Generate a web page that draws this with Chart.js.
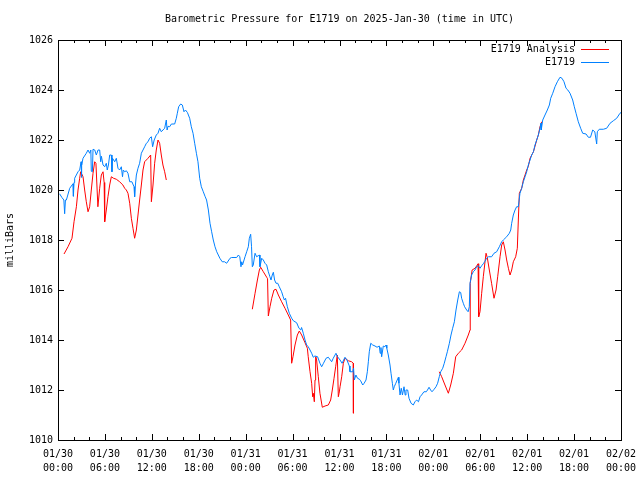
<!DOCTYPE html>
<html>
<head>
<meta charset="utf-8">
<title>Barometric Pressure for E1719</title>
<script src="https://cdn.jsdelivr.net/npm/chart.js@4.4.1/dist/chart.umd.min.js"></script>
<style>
  html, body { margin: 0; padding: 0; background: #fff; }
</style>
</head>
<body>
<canvas id="chart" width="640" height="480"></canvas>
<script>
// hours since 2025-01-30 00:00 UTC
const stationHours = [
  0.2, 0.5, 0.75, 0.85, 0.95, 1.07, 1.5, 1.8, 1.92, 1.97, 2.05, 2.13, 2.56, 2.77, 2.95, 3.0, 3.05, 3.2,
  3.62, 3.84, 4.05, 4.2, 4.26, 4.4, 4.48, 4.7, 4.9, 5.12, 5.33, 5.46, 5.55, 5.76, 5.97, 6.18, 6.3, 6.45,
  6.61, 6.82, 6.9, 6.97, 7.25, 7.46, 7.67, 7.88, 8.1, 8.25, 8.35, 8.53, 8.74, 8.95, 9.17, 9.45, 9.72, 9.8,
  9.9, 10.02, 10.23, 10.44, 10.66, 10.87, 11.08, 11.3, 11.51, 11.72, 11.94, 12.1, 12.3, 12.57, 12.79, 13.0,
  13.21, 13.42, 13.64, 13.85, 13.95, 14.07, 14.28, 14.5, 14.92, 15.13, 15.26, 15.43, 15.69, 15.9, 16.11,
  16.3, 16.55, 16.84, 17.05, 17.27, 17.48, 17.7, 17.9, 18.12, 18.33, 18.58, 18.8, 19.0, 19.23, 19.44,
  19.65, 19.86, 20.08, 20.3, 20.5, 20.7, 21.0, 21.3, 21.57, 22.0, 22.2, 22.85, 23.07, 23.25, 23.4, 23.5,
  23.6, 23.92, 24.13, 24.34, 24.47, 24.64, 24.75, 24.85, 24.97, 25.2, 25.4, 25.6, 25.75, 25.83, 26.05,
  26.26, 26.47, 26.69, 26.9, 27.1, 27.24, 27.4, 27.54, 27.7, 27.88, 28.1, 28.3, 28.6, 28.8, 28.95, 29.1,
  29.33, 29.58, 29.88, 30.1, 30.52, 30.82, 31.05, 31.15, 31.37, 31.59, 31.8, 32.0, 32.23, 32.44, 32.65,
  32.85, 33.2, 33.5, 33.72, 33.95, 34.28, 34.57, 35.0, 35.2, 35.55, 35.75, 36.07, 36.33, 36.7, 36.95,
  37.26, 37.34, 37.7, 37.8, 37.9, 38.1, 38.3, 38.55, 38.7, 38.97, 39.15, 39.39, 39.56, 39.69, 39.81, 40.0,
  40.25, 40.54, 40.8, 41.09, 41.2, 41.3, 41.39, 41.6, 41.8, 41.95, 42.05, 42.24, 42.46, 42.59, 42.76,
  42.88, 43.0, 43.2, 43.53, 43.6, 43.74, 43.9, 44.05, 44.25, 44.4, 44.5, 44.72, 44.89, 45.15, 45.44,
  45.65, 45.87, 46.1, 46.3, 46.5, 46.8, 47.1, 47.25, 47.45, 47.65, 47.83, 48.1, 48.34, 48.55, 48.76,
  48.94, 49.2, 49.4, 49.62, 49.79, 50.05, 50.26, 50.47, 50.69, 50.9, 51.12, 51.33, 51.5, 51.62, 51.83,
  52.0, 52.26, 52.45, 52.6, 52.69, 52.9, 53.11, 53.33, 53.54, 53.75, 53.97, 54.18, 54.39, 54.6, 54.82,
  55.05, 55.45, 55.76, 56.1, 56.44, 56.74, 56.95, 57.38, 57.72, 57.9, 58.02, 58.23, 58.45, 58.65, 58.87,
  59.08, 59.3, 59.51, 59.73, 59.94, 60.15, 60.37, 60.58, 60.8, 61.0, 61.22, 61.43, 61.64, 61.77, 61.8,
  61.99, 62.28, 62.58, 62.84, 63.01, 63.27, 63.56, 63.86, 64.2, 64.45, 64.71, 64.97, 65.2, 65.48, 65.82,
  66.03, 66.25, 66.54, 66.84, 67.1, 67.53, 67.82, 68.1, 68.38, 68.65, 68.89, 68.97, 69.22, 69.74, 70.17,
  70.6, 71.02, 71.45, 71.87, 72.0
];
const stationPressure = [
  1019.85, 1019.7, 1019.6, 1019.05, 1019.6, 1019.6, 1020.07, 1020.2, 1020.25, 1019.75, 1020.3, 1020.47,
  1020.73, 1020.8, 1021.13, 1020.5, 1021.0, 1021.27, 1021.47, 1021.6, 1021.47, 1021.6, 1020.75, 1020.73,
  1021.63, 1021.6, 1021.4, 1021.6, 1021.6, 1021.13, 1021.35, 1021.0, 1020.93, 1021.07, 1020.8, 1021.0,
  1021.4, 1021.4, 1020.73, 1021.27, 1021.13, 1021.27, 1020.87, 1020.8, 1020.93, 1020.53, 1020.8, 1020.73,
  1020.77, 1020.67, 1020.33, 1020.33, 1020.13, 1019.73, 1020.2, 1020.6, 1020.87, 1021.07, 1021.47,
  1021.6, 1021.73, 1021.87, 1021.93, 1022.07, 1022.13, 1021.73, 1022.0, 1022.2, 1022.27, 1022.47,
  1022.33, 1022.4, 1022.47, 1022.8, 1022.4, 1022.55, 1022.53, 1022.64, 1022.64, 1022.87, 1023.07,
  1023.33, 1023.44, 1023.4, 1023.13, 1023.2, 1023.1, 1022.87, 1022.53, 1022.27, 1021.87, 1021.47,
  1021.13, 1020.47, 1020.13, 1019.93, 1019.75, 1019.6, 1019.2, 1018.67, 1018.33, 1018.0, 1017.73,
  1017.53, 1017.4, 1017.27, 1017.13, 1017.13, 1017.07, 1017.27, 1017.3, 1017.3, 1017.4, 1017.33,
  1016.93, 1017.13, 1017.0, 1017.33, 1017.53, 1017.73, 1018.07, 1018.23, 1017.73, 1016.93, 1017.0,
  1017.47, 1017.33, 1017.37, 1017.4, 1016.93, 1017.27, 1017.2, 1017.07, 1017.0, 1016.73, 1016.53,
  1016.4, 1016.6, 1016.71, 1016.4, 1016.27, 1016.27, 1016.13, 1015.93, 1015.73, 1015.6, 1015.67,
  1015.33, 1015.07, 1014.87, 1014.77, 1014.69, 1014.47, 1014.4, 1014.5, 1014.27, 1014.0, 1013.8,
  1013.73, 1013.6, 1013.47, 1013.31, 1013.36, 1013.33, 1013.07, 1012.93, 1013.07, 1013.27, 1013.31,
  1013.13, 1013.27, 1013.47, 1013.33, 1013.2, 1013.07, 1013.31, 1013.2, 1012.96, 1012.73, 1012.73,
  1012.87, 1012.4, 1012.6, 1012.47, 1012.43, 1012.37, 1012.2, 1012.27, 1012.4, 1012.73, 1013.13,
  1013.53, 1013.87, 1013.8, 1013.76, 1013.71, 1013.76, 1013.47, 1013.7, 1013.33, 1013.76, 1013.73,
  1013.8, 1013.67, 1013.4, 1013.0, 1012.67, 1012.27, 1012.0, 1012.13, 1012.27, 1012.51, 1012.27,
  1011.8, 1012.07, 1011.8, 1012.13, 1011.8, 1012.0, 1012.0, 1011.67, 1011.47, 1011.4, 1011.53, 1011.6,
  1011.53, 1011.73, 1011.8, 1011.93, 1011.93, 1012.0, 1012.11, 1012.0, 1011.93, 1012.03, 1012.13,
  1012.27, 1012.53, 1012.73, 1012.87, 1013.07, 1013.33, 1013.53, 1013.87, 1014.2, 1014.47, 1014.73,
  1015.2, 1015.6, 1015.93, 1015.9, 1015.67, 1015.47, 1015.33, 1015.2, 1015.13, 1015.33, 1016.27,
  1016.6, 1016.73, 1016.8, 1016.93, 1016.97, 1016.87, 1016.97, 1017.05, 1017.15, 1017.27, 1017.33,
  1017.33, 1017.47, 1017.53, 1017.73, 1017.93, 1018.0, 1018.13, 1018.27, 1018.4, 1018.67, 1019.0,
  1019.2, 1019.33, 1019.33, 1019.87, 1020.07, 1020.33, 1020.53, 1020.73, 1021.0, 1021.2, 1021.4,
  1021.53, 1021.8, 1022.0, 1022.2, 1022.47, 1022.67, 1022.4, 1022.8, 1023.0, 1023.2, 1023.4, 1023.67,
  1023.87, 1024.13, 1024.33, 1024.51, 1024.47, 1024.33, 1024.07, 1024.0, 1023.87, 1023.6, 1023.33,
  1023.07, 1022.73, 1022.47, 1022.27, 1022.24, 1022.11, 1022.11, 1022.4, 1022.33, 1021.84, 1022.33,
  1022.43, 1022.43, 1022.47, 1022.67, 1022.77, 1022.87, 1023.07, 1023.1
];

// analysis runs; null marks the gaps between them
const analysisHours = [
  0.77, 1.28, 1.79, 2.05, 2.35, 2.56, 2.77, 2.9, 3.2, 3.41, 3.62, 3.84, 4.05, 4.26, 4.48, 4.69, 4.85,
  5.1, 5.33, 5.54, 5.76, 5.9, 5.97, 6.18, 6.39, 6.61, 6.82, 7.1, 7.46, 7.88, 8.3, 8.53, 8.74, 8.95,
  9.17, 9.38, 9.59, 9.8, 10.02, 10.23, 10.44, 10.66, 10.87, 11.08, 11.51, 11.85, 11.94, 12.15, 12.36,
  12.57, 12.79, 13.0, 13.21, 13.42, 13.64, 13.85,
  14.0,
  24.85, 25.2, 25.5, 25.75, 25.92, 26.26, 26.69, 26.8, 26.9, 27.11, 27.33, 27.62, 27.88, 28.18, 28.6,
  29.03, 29.45, 29.75, 29.88, 30.05, 30.31, 30.61, 30.86, 31.16, 31.59, 31.89, 32.0, 32.23, 32.44,
  32.57, 32.65, 32.78, 32.87, 32.95, 33.05, 33.29, 33.5, 33.8, 34.15, 34.57, 34.87, 35.08, 35.3, 35.51,
  35.72, 35.85, 35.95, 36.07, 36.28, 36.49, 36.7, 37.13, 37.55, 37.76, 37.78,
  40.0,
  48.76, 49.07, 49.49, 49.92, 50.22, 50.56, 50.86, 51.2, 51.62, 52.05, 52.47, 52.69, 52.72, 52.96,
  53.33, 53.63, 53.72, 53.8, 53.97, 54.18, 54.39, 54.61, 54.74, 54.9, 55.16, 55.45, 55.76, 56.02,
  56.23, 56.53, 56.74, 56.95, 57.17, 57.38, 57.6, 57.81, 58.02, 58.23, 58.53, 58.74, 58.87, 59.0, 59.3,
  59.51, 59.73, 59.94, 60.15, 60.37, 60.8, 61.0, 61.22, 61.43, 61.64, 61.86
];
const analysisPressure = [
  1017.44, 1017.73, 1018.07, 1018.73, 1019.33, 1020.0, 1020.47, 1020.73, 1020.53, 1020.0, 1019.53,
  1019.13, 1019.33, 1020.0, 1020.67, 1021.13, 1021.07, 1019.33, 1020.07, 1020.6, 1020.73, 1020.3,
  1018.73, 1019.2, 1019.73, 1020.2, 1020.53, 1020.47, 1020.43, 1020.33, 1020.2, 1020.07, 1020.0,
  1019.87, 1019.47, 1018.87, 1018.47, 1018.07, 1018.4, 1019.0, 1019.6, 1020.2, 1020.8, 1021.13,
  1021.27, 1021.4, 1019.53, 1020.2, 1021.07, 1021.6, 1022.0, 1021.87, 1021.4, 1021.0, 1020.73, 1020.4,
  null,
  1015.23, 1015.87, 1016.4, 1016.8, 1016.91, 1016.73, 1016.51, 1016.45, 1014.96, 1015.33, 1015.67,
  1016.0, 1016.03, 1015.8, 1015.53, 1015.27, 1015.0, 1014.8, 1013.07, 1013.33, 1013.8, 1014.2, 1014.36,
  1014.2, 1013.89, 1013.67, 1013.33, 1012.73, 1012.27, 1011.73, 1011.87, 1011.53, 1012.4, 1013.33,
  1013.27, 1012.53, 1011.87, 1011.31, 1011.36, 1011.4, 1011.6, 1012.0, 1012.47, 1012.93, 1013.4,
  1011.73, 1011.87, 1012.13, 1012.53, 1013.07, 1013.27, 1013.17, 1013.13, 1013.07, 1011.07,
  null,
  1012.73, 1012.53, 1012.2, 1011.87, 1012.2, 1012.67, 1013.33, 1013.47, 1013.6, 1013.87, 1014.2,
  1014.4, 1016.27, 1016.8, 1016.87, 1017.0, 1017.05, 1014.93, 1015.13, 1015.87, 1016.53, 1017.13,
  1017.47, 1017.3, 1016.8, 1016.27, 1015.67, 1016.0, 1016.53, 1017.33, 1017.8, 1017.93, 1017.6,
  1017.2, 1016.87, 1016.6, 1016.8, 1017.13, 1017.33, 1017.67, 1018.8, 1019.87, 1020.07, 1020.4,
  1020.6, 1020.8, 1020.95, 1021.27, 1021.53, 1021.75, 1022.0, 1022.2, 1022.53, 1022.73
];

// one label per 6 hours
const xTickLabels = [
  ['01/30', '00:00'], ['01/30', '06:00'], ['01/30', '12:00'], ['01/30', '18:00'],
  ['01/31', '00:00'], ['01/31', '06:00'], ['01/31', '12:00'], ['01/31', '18:00'],
  ['02/01', '00:00'], ['02/01', '06:00'], ['02/01', '12:00'], ['02/01', '18:00'],
  ['02/02', '00:00']
];

const MONO = "'DejaVu Sans Mono', 'Liberation Mono', monospace";

function toPoints(xs, ys) {
  return xs.map((x, i) => ({ x: x, y: ys[i] }));
}

// gnuplot style: full frame, inward tick marks, key in the top right corner
const gnuplotFrame = {
  id: 'gnuplotFrame',
  afterDraw(chart) {
    const { ctx, chartArea: a, scales: { x, y } } = chart;
    ctx.save();
    ctx.strokeStyle = '#000';
    ctx.lineWidth = 1;
    ctx.strokeRect(a.left + 0.5, a.top + 0.5, a.right - a.left, a.bottom - a.top);

    ctx.beginPath();
    x.ticks.forEach(t => {
      const px = Math.round(x.getPixelForValue(t.value)) + 0.5;
      const len = t.value % 6 === 0 ? 6 : 3;
      ctx.moveTo(px, a.bottom); ctx.lineTo(px, a.bottom - len);
      ctx.moveTo(px, a.top); ctx.lineTo(px, a.top + len);
    });
    y.ticks.forEach(t => {
      const py = Math.round(y.getPixelForValue(t.value)) + 0.5;
      ctx.moveTo(a.left, py); ctx.lineTo(a.left + 6, py);
      ctx.moveTo(a.right, py); ctx.lineTo(a.right - 6, py);
    });
    ctx.stroke();

    // key
    ctx.font = '10px ' + MONO;
    ctx.fillStyle = '#000';
    ctx.textAlign = 'right';
    ctx.textBaseline = 'middle';
    chart.data.datasets.forEach((ds, i) => {
      const ky = a.top + 9.5 + i * 13;
      ctx.fillText(ds.label, a.right - 46, ky);
      ctx.strokeStyle = ds.borderColor;
      ctx.beginPath();
      ctx.moveTo(a.right - 40, ky);
      ctx.lineTo(a.right - 12, ky);
      ctx.stroke();
    });
    ctx.restore();
  }
};

new Chart(document.getElementById('chart'), {
  type: 'line',
  data: {
    datasets: [
      {
        label: 'E1719 Analysis',
        data: toPoints(analysisHours, analysisPressure),
        borderColor: '#ff0000',
        borderWidth: 1,
        pointRadius: 0,
        tension: 0,
        spanGaps: false,
        order: 1
      },
      {
        label: 'E1719',
        data: toPoints(stationHours, stationPressure),
        borderColor: '#0080ff',
        borderWidth: 1,
        pointRadius: 0,
        tension: 0,
        order: 0
      }
    ]
  },
  options: {
    responsive: false,
    animation: false,
    events: [],
    layout: { padding: { left: 0, right: 19, top: 0, bottom: 0 } },
    plugins: {
      legend: { display: false },
      tooltip: { enabled: false },
      title: {
        display: true,
        fullSize: false,
        text: 'Barometric Pressure for E1719 on 2025-Jan-30 (time in UTC)',
        color: '#000',
        font: { family: MONO, size: 10, weight: 'normal', lineHeight: 1.2 },
        padding: { top: 13, bottom: 15 }
      }
    },
    scales: {
      x: {
        type: 'linear',
        min: 0,
        max: 72,
        afterFit: axis => {
          axis.height = 40;
          // edge labels may overhang; keep the plot box where gnuplot put it
          axis.paddingLeft = 0;
          axis.paddingRight = 0;
        },
        grid: { display: false, drawTicks: false },
        border: { display: false },
        ticks: {
          stepSize: 2,
          maxTicksLimit: 100,
          autoSkip: false,
          maxRotation: 0,
          padding: 7,
          color: '#000',
          font: { family: MONO, size: 10, lineHeight: 1.4 },
          callback: v => (v % 6 === 0 ? xTickLabels[v / 6] : '')
        }
      },
      y: {
        min: 1010,
        max: 1026,
        afterFit: axis => {
          axis.width = 58;
          axis.paddingTop = 0;
          axis.paddingBottom = 0;
        },
        grid: { display: false, drawTicks: false },
        border: { display: false },
        ticks: {
          stepSize: 2,
          padding: 5,
          color: '#000',
          font: { family: MONO, size: 10 },
          callback: v => String(v)
        },
        title: {
          display: true,
          text: 'milliBars',
          color: '#000',
          font: { family: MONO, size: 10 },
          padding: { top: 4, bottom: 0 }
        }
      }
    }
  },
  plugins: [gnuplotFrame]
});
</script>
</body>
</html>
